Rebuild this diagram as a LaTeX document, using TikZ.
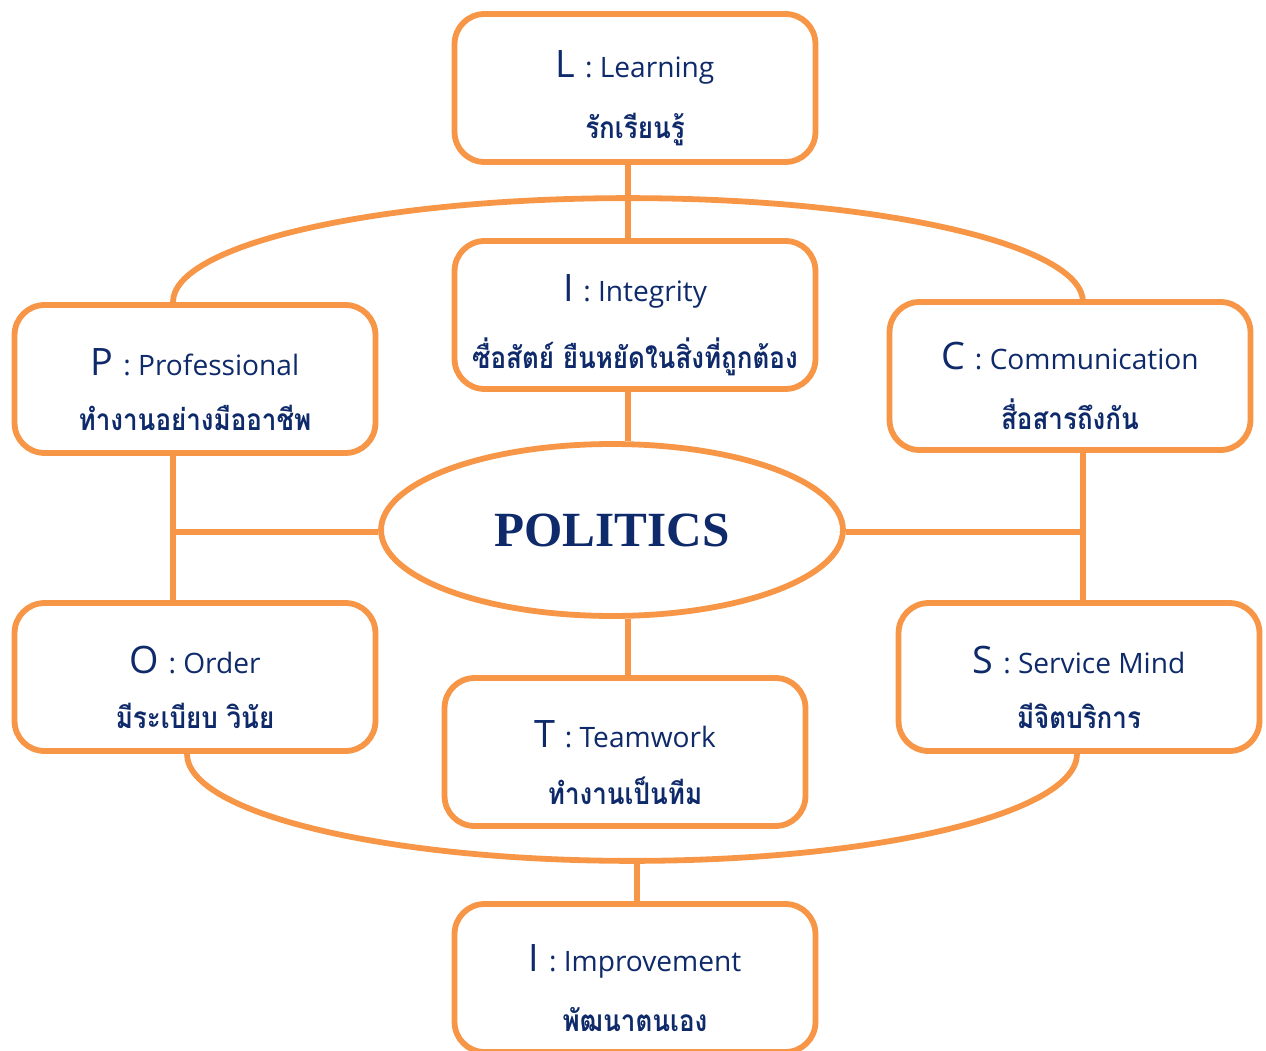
\documentclass[tikz,border=0pt]{standalone}
\usepackage{fontspec}
\setmainfont{Liberation Serif}
\newfontfamily\thaifont[Script=Thai,FakeStretch=0.87]{Loma}
\newfontfamily\latinfont{Open Sans}
\usepackage{tikz}
\usetikzlibrary{shapes.geometric}
\definecolor{boxorange}{HTML}{F79646}
\definecolor{navyblue}{HTML}{0E2A6A}
% first letter large, word small
\newcommand{\headword}[2]{\rule{0pt}{0.95cm}{\latinfont\fontsize{21.5}{24}\selectfont #1 \fontsize{16}{18}\selectfont: #2}}
\newcommand{\thaiword}[1]{{\thaifont\bfseries\fontsize{17}{20}\selectfont #1}}

\tikzset{
  valuebox/.style={draw=boxorange,line width=3.3pt,rounded corners=0.6cm,fill=white,
    minimum width=7.22cm,minimum height=2.96cm,align=center,text=navyblue},
  link/.style={draw=boxorange,line width=3.3pt}
}

\begin{document}
\begin{tikzpicture}[x=0.02cm,y=-0.02cm]
\useasboundingbox (0,0) rectangle (1266,1050);

\node[valuebox] (learn) at (635,88) {\headword{L}{Learning}\\[0.55cm]\thaiword{รักเรียนรู้}};
\node[valuebox] (integ) at (635,315) {\headword{I}{Integrity}\\[0.55cm]\thaiword{ซื่อสัตย์ ยืนหยัดในสิ่งที่ถูกต้อง}};
\node[valuebox] (prof) at (195,379) {\headword{P}{Professional}\\[0.55cm]\thaiword{ทำงานอย่างมืออาชีพ}};
\node[valuebox] (comm) at (1070,376) {\headword{C}{Communication}\\[0.55cm]\thaiword{สื่อสารถึงกัน}};
\node[valuebox] (order) at (195,677) {\headword{O}{Order}\\[0.55cm]\thaiword{มีระเบียบ วินัย}};
\node[valuebox] (team) at (625,752) {\headword{T}{Teamwork}\\[0.55cm]\thaiword{ทำงานเป็นทีม}};
\node[valuebox] (serv) at (1079,677) {\headword{S}{Service Mind}\\[0.55cm]\thaiword{มีจิตบริการ}};
\node[valuebox] (impr) at (635,978) {\headword{I}{Improvement}\\[0.55cm]\thaiword{พัฒนาตนเอง}};

\node[draw=boxorange,line width=3.3pt,ellipse,fill=white,minimum width=9.24cm,minimum height=3.44cm,
  text=navyblue,font=\bfseries\fontsize{28}{30}\selectfont] (pol) at (612,530) {POLITICS};

\coordinate (jl) at (173,532);
\coordinate (jr) at (1083,532);
\coordinate (ax) at (628,0);
\coordinate (bx) at (637,862);

% outer arcs
\draw[link] (jl |- prof.north) arc[start angle=180,end angle=360,x radius=455,y radius=104];
\draw[link] ([xshift=-0.16cm]order.south) arc[start angle=180,end angle=0,x radius=445,y radius=107];

% connectors
\draw[link] (learn.south -| ax) -- (integ.north -| ax);
\draw[link] (integ.south -| ax) -- (pol.north -| ax);
\draw[link] (pol.west |- jl) -- (jl);
\draw[link] (pol.east |- jr) -- (jr);
\draw[link] (jl |- prof.south) -- (jl |- order.north);
\draw[link] (jr |- comm.south) -- (jr |- serv.north);
\draw[link] (pol.south -| ax) -- (team.north -| ax);
\draw[link] (impr.north -| bx) -- (bx);
\end{tikzpicture}
\end{document}
